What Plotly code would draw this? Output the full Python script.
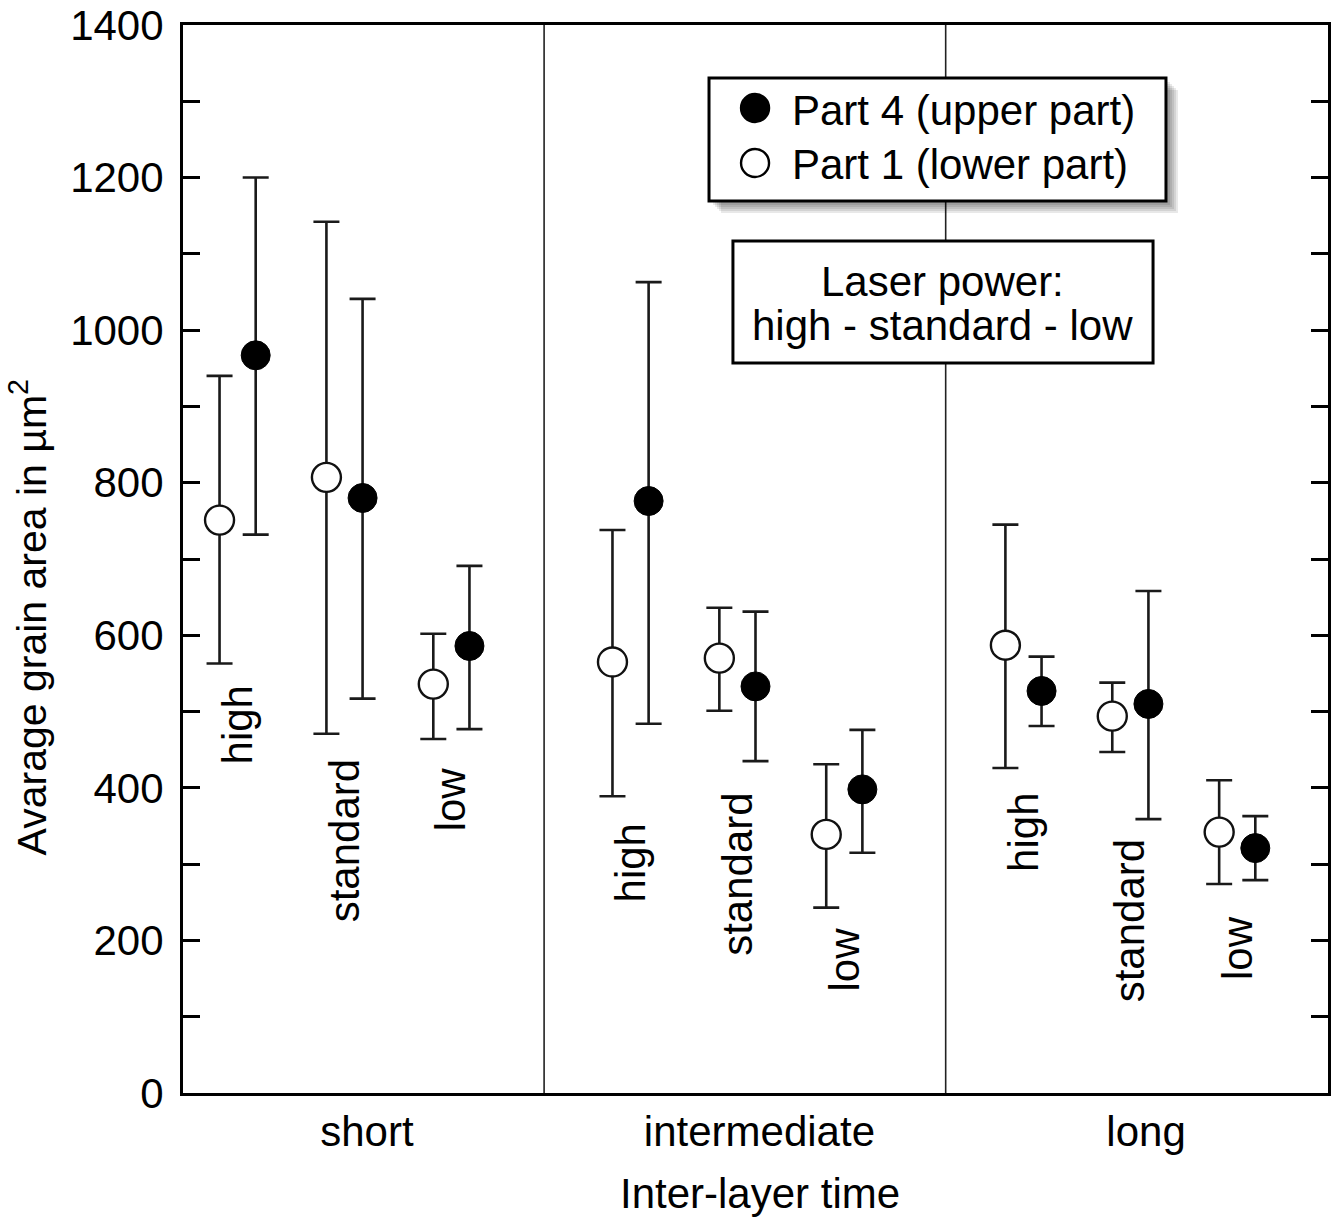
import plotly.graph_objects as go

# ---------------- data ----------------
groups = ["short", "intermediate", "long"]
levels = ["high", "standard", "low"]

# order: short(high, standard, low), intermediate(...), long(...)
part1_mean = [751, 807, 536, 565, 570, 339, 587, 494, 342]
part1_upper = [940, 1142, 602, 738, 636, 431, 745, 538, 410]
part1_lower = [563, 471, 464, 389, 501, 243, 426, 447, 274]

part4_mean = [967, 780, 586, 776, 533, 398, 527, 510, 321]
part4_upper = [1200, 1041, 691, 1063, 631, 476, 572, 658, 363]
part4_lower = [732, 517, 477, 484, 435, 315, 481, 359, 279]

y_major_ticks = list(range(0, 1401, 200))

# value at which the rotated laser-power labels begin (top of text)
power_label_top = [537, 440, 430, 356, 396, 220, 396, 335, 235]

# ---------------- layout constants ----------------
FONT = "Liberation Sans, Arial, Helvetica, sans-serif"
FS = 42
level_offset = [-0.272, 0.0, 0.272]
part_offset = 0.046
x_range = [-0.411, 2.503]
dividers = [0.508, 1.530]
group_label_x = [0.057, 1.056, 2.040]

centers = [g + level_offset[l] for g in range(len(groups)) for l in range(len(levels))]
x_open = [c - part_offset for c in centers]
x_fill = [c + part_offset for c in centers]

fig = go.Figure()

err_style = dict(type="data", symmetric=False, thickness=2.6, width=13, color="#1a1a1a")

fig.add_trace(go.Scatter(
    x=x_open, y=part1_mean, mode="markers", name="Part 1 (lower part)",
    marker=dict(symbol="circle", size=29, color="white", line=dict(color="#111", width=2.4)),
    error_y=dict(array=[u - m for u, m in zip(part1_upper, part1_mean)],
                 arrayminus=[m - l for m, l in zip(part1_mean, part1_lower)], **err_style),
    showlegend=False,
))
fig.add_trace(go.Scatter(
    x=x_fill, y=part4_mean, mode="markers", name="Part 4 (upper part)",
    marker=dict(symbol="circle", size=29, color="black", line=dict(color="black", width=1)),
    error_y=dict(array=[u - m for u, m in zip(part4_upper, part4_mean)],
                 arrayminus=[m - l for m, l in zip(part4_mean, part4_lower)], **err_style),
    showlegend=False,
))

shapes = []
for d in dividers:
    shapes.append(dict(type="line", xref="x", yref="paper", x0=d, x1=d, y0=0, y1=1,
                       line=dict(color="#222", width=1.6), layer="above"))

# legend box (with soft drop shadow)
W_PX, H_PX = 1145.0, 1068.0
bx0, bx1, by0, by1 = 0.4594, 0.8585, 0.8352, 0.9504
for off in [12, 10, 8, 6, 4]:
    dx, dy = off / W_PX, off / H_PX
    shapes.append(dict(type="rect", xref="paper", yref="paper",
                       x0=bx0 + dx, x1=bx1 + dx, y0=by0 - dy, y1=by1 - dy,
                       fillcolor="rgba(0,0,0,0.09)", line=dict(width=0), layer="above"))
shapes.append(dict(type="rect", xref="paper", yref="paper", x0=bx0, x1=bx1, y0=by0, y1=by1,
                   fillcolor="white", line=dict(color="black", width=3), layer="above"))
# legend symbols
for yy, fill in [(0.9223, "black"), (0.8708, "white")]:
    shapes.append(dict(type="circle", xref="paper", yref="paper", xsizemode="pixel", ysizemode="pixel",
                       xanchor=0.4996, yanchor=yy, x0=-14, x1=14, y0=-14, y1=14,
                       fillcolor=fill, line=dict(color="black", width=2.4), layer="above"))
# laser power box
shapes.append(dict(type="rect", xref="paper", yref="paper", x0=0.4803, x1=0.8472, y0=0.6835, y1=0.7978,
                   fillcolor="white", line=dict(color="black", width=3), layer="above"))

txt = dict(size=FS, color="black", family=FONT)
annotations = [
    dict(text="Part 4 (upper part)", xref="paper", yref="paper", x=0.5301, y=0.9200,
         xanchor="left", yanchor="middle", showarrow=False, font=txt),
    dict(text="Part 1 (lower part)", xref="paper", yref="paper", x=0.5301, y=0.8690,
         xanchor="left", yanchor="middle", showarrow=False, font=txt),
    dict(text="Laser power:", xref="paper", yref="paper", x=0.6629, y=0.7595,
         xanchor="center", yanchor="middle", showarrow=False, font=txt),
    dict(text="high - standard - low", xref="paper", yref="paper", x=0.6629, y=0.7185,
         xanchor="center", yanchor="middle", showarrow=False, font=txt),
    dict(text="Avarage grain area in µm<sup>2</sup>", xref="paper", yref="paper", x=-0.135, y=0.4457,
         xanchor="center", yanchor="middle", textangle=-90, showarrow=False,
         font=dict(size=FS - 1, color="black", family=FONT)),
    dict(text="Inter-layer time", xref="paper", yref="paper", x=0.5035, y=-0.094,
         xanchor="center", yanchor="middle", showarrow=False, font=txt),
]
for i, c in enumerate(centers):
    annotations.append(dict(text=levels[i % 3], xref="x", yref="y", x=c, y=power_label_top[i],
                            xanchor="center", yanchor="top", textangle=-90, showarrow=False,
                            font=txt))

fig.update_layout(
    width=1342, height=1219,
    margin=dict(l=183, r=14, t=25, b=126, autoexpand=False),
    paper_bgcolor="white", plot_bgcolor="white",
    font=dict(family=FONT, size=FS, color="black"),
    shapes=shapes, annotations=annotations,
    xaxis=dict(range=x_range, showgrid=False, zeroline=False, showline=True, linewidth=3,
               linecolor="black", mirror=True, ticks="", tickmode="array", automargin=False,
               tickvals=group_label_x, ticktext=groups, tickfont=dict(size=FS, color="black")),
    yaxis=dict(range=[0, 1400], showgrid=False, zeroline=False, showline=True, linewidth=3,
               linecolor="black", mirror="allticks", ticks="inside", ticklen=17, tickwidth=2.5,
               tickcolor="black", tickmode="array", tickvals=y_major_ticks,
               minor=dict(dtick=100, ticks="inside", ticklen=17, tickwidth=2.5, tickcolor="black",
                          showgrid=False),
               automargin=False, tickfont=dict(size=FS, color="black"), ticklabelstandoff=8),
)

fig.write_html("out.html")
